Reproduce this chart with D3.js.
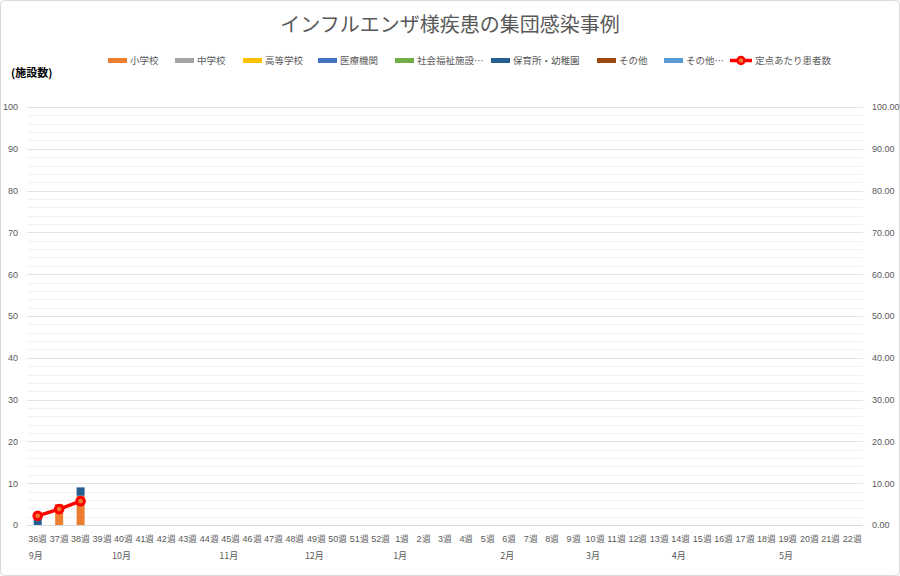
<!DOCTYPE html>
<html>
<head>
<meta charset="utf-8">
<script src="https://cdn.jsdelivr.net/npm/d3@7"></script>
<style>
  body { margin: 0; background: #fff; }
  svg { font-family: "Noto Sans CJK JP", "Noto Sans", sans-serif; }
</style>
</head>
<body>
<svg width="900" height="576"></svg>
<script>
var weeks = ['36週', '37週', '38週', '39週', '40週', '41週', '42週', '43週', '44週', '45週',
    '46週', '47週', '48週', '49週', '50週', '51週', '52週', '1週', '2週', '3週', '4週', '5週',
    '6週', '7週', '8週', '9週', '10週', '11週', '12週', '13週', '14週', '15週', '16週', '17週',
    '18週', '19週', '20週', '21週', '22週'];

// month label sits under the first week of that month
var months = [['36週', '9月'], ['40週', '10月'], ['45週', '11月'], ['49週', '12月'], ['1週', '1月'],
    ['6週', '2月'], ['10週', '3月'], ['14週', '4月'], ['19週', '5月']];

var seriesNames = ['小学校', '中学校', '高等学校', '医療機関', '社会福祉施設…', '保育所・幼稚園', 'その他', 'その他…'];
var seriesColors = ['#ED7D31', '#A5A5A5', '#FFC000', '#4472C4', '#70AD47', '#255E91', '#9E480E', '#5B9BD5'];

// reported so far (36週-38週), later weeks not reported yet
var elementary = [0, 5, 7];
var juniorHigh = [0, 0, 0];
var highSchool = [0, 0, 0];
var medical = [0, 0, 0];
var welfare = [0, 0, 0];
var nursery = [2, 0, 2];
var other = [0, 0, 0];
var other2 = [0, 0, 0];

var perSentinel = [2.2, 3.8, 5.7];

var yTicks = [0, 10, 20, 30, 40, 50, 60, 70, 80, 90, 100];

var svg = d3.select('svg'),
    plotLeft = 27,
    plotRight = 863,
    plotTop = 107,
    plotBottom = 525;

var allSeries = [elementary, juniorHigh, highSchool, medical, welfare, nursery, other, other2];

var x = d3.scaleBand().domain(weeks).range([plotLeft, plotRight]);
var y = d3.scaleLinear().domain([0, 100]).range([plotBottom, plotTop]);
var y2 = d3.scaleLinear().domain([0, 100]).range([plotBottom, plotTop]);

svg.append('rect')
    .attr('x', 0.5).attr('y', 0.5)
    .attr('width', 899).attr('height', 575)
    .attr('rx', 4)
    .attr('fill', '#fff')
    .attr('stroke', '#d9d9d9');

// minor grid
svg.append('g')
    .selectAll('line')
    .data(d3.range(0, 101, 2).filter(function (d) { return d % 10 !== 0; }))
    .enter().append('line')
    .attr('x1', plotLeft).attr('x2', plotRight)
    .attr('y1', function (d) { return Math.round(y(d)) + 0.5; })
    .attr('y2', function (d) { return Math.round(y(d)) + 0.5; })
    .attr('stroke', '#f2f2f2');

// major grid
svg.append('g')
    .selectAll('line')
    .data(yTicks)
    .enter().append('line')
    .attr('x1', plotLeft).attr('x2', plotRight)
    .attr('y1', function (d) { return Math.round(y(d)) + 0.5; })
    .attr('y2', function (d) { return Math.round(y(d)) + 0.5; })
    .attr('stroke', function (d) { return d === 0 ? '#d9d9d9' : '#e3e3e3'; });

var leftAxis = svg.append('g')
    .attr('transform', 'translate(' + (plotLeft - 9) + ',0)')
    .call(d3.axisLeft(y).tickValues(yTicks).tickSize(0).tickPadding(0));

var rightAxis = svg.append('g')
    .attr('transform', 'translate(' + (plotRight + 9) + ',0)')
    .call(d3.axisRight(y2).tickValues(yTicks).tickSize(0).tickPadding(0).tickFormat(d3.format('.2f')));

[leftAxis, rightAxis].forEach(function (g) {
    g.select('.domain').remove();
    g.selectAll('text').attr('fill', '#595959').style('font-size', '9px');
});

var xAxis = svg.append('g')
    .attr('transform', 'translate(0,' + plotBottom + ')')
    .call(d3.axisBottom(x).tickSize(0).tickPadding(11));
xAxis.select('.domain').remove();
xAxis.selectAll('text').attr('fill', '#595959').style('font-size', '9px');

svg.append('g')
    .selectAll('text')
    .data(months)
    .enter().append('text')
    .attr('x', function (d) { return x(d[0]) + x.bandwidth() / 2 - 2; })
    .attr('y', plotBottom + 34)
    .attr('text-anchor', 'middle')
    .attr('fill', '#595959')
    .style('font-size', '9px')
    .text(function (d) { return d[1]; });

// stacked bars
var rows = weeks.map(function (w, i) {
    var row = { week: w };
    for (var s = 0; s < allSeries.length; s++) {
        row[s] = allSeries[s][i] || 0;
    }
    return row;
});
var stack = d3.stack().keys(d3.range(allSeries.length))(rows);
var barW = 8;

svg.append('g')
    .selectAll('g')
    .data(stack)
    .enter().append('g')
    .attr('fill', function (d, i) { return seriesColors[i]; })
    .selectAll('rect')
    .data(function (d) { return d.filter(function (p) { return p[1] > p[0]; }); })
    .enter().append('rect')
    .attr('x', function (d) { return x(d.data.week) + x.bandwidth() / 2 - barW / 2; })
    .attr('width', barW)
    .attr('y', function (d) { return y(d[1]); })
    .attr('height', function (d) { return y(d[0]) - y(d[1]); });

// line on secondary axis
var lineData = perSentinel.map(function (v, i) { return [weeks[i], v]; });
var line = d3.line()
    .x(function (d) { return x(d[0]) + x.bandwidth() / 2; })
    .y(function (d) { return y2(d[1]); });

svg.append('path')
    .datum(lineData)
    .attr('d', line)
    .attr('fill', 'none')
    .attr('stroke', '#FF0000')
    .attr('stroke-width', 3.5);

svg.append('g')
    .selectAll('circle')
    .data(lineData)
    .enter().append('circle')
    .attr('cx', function (d) { return x(d[0]) + x.bandwidth() / 2; })
    .attr('cy', function (d) { return y2(d[1]); })
    .attr('r', 3.8)
    .attr('fill', '#ED7D31')
    .attr('stroke', '#FF0000')
    .attr('stroke-width', 3);

// title
svg.append('text')
    .attr('x', 450).attr('y', 32)
    .attr('text-anchor', 'middle')
    .attr('fill', '#595959')
    .style('font-size', '20px')
    .text('インフルエンザ様疾患の集団感染事例');

svg.append('text')
    .attr('x', 11).attr('y', 77)
    .attr('fill', '#000')
    .style('font-size', '11px')
    .style('font-weight', 'bold')
    .text('(施設数)');

// legend
var legendX = [108, 175, 243, 318, 395, 491, 597, 664];
var legend = svg.append('g').style('font-size', '9.5px');
seriesNames.forEach(function (name, i) {
    legend.append('rect')
        .attr('x', legendX[i]).attr('y', 58)
        .attr('width', 19).attr('height', 5)
        .attr('fill', seriesColors[i]);
    legend.append('text')
        .attr('x', legendX[i] + 22).attr('y', 64)
        .attr('fill', '#595959')
        .text(name);
});
legend.append('line')
    .attr('x1', 730).attr('x2', 752)
    .attr('y1', 60.5).attr('y2', 60.5)
    .attr('stroke', '#FF0000').attr('stroke-width', 3.5);
legend.append('circle')
    .attr('cx', 741).attr('cy', 60.5).attr('r', 3.5)
    .attr('fill', '#ED7D31').attr('stroke', '#FF0000').attr('stroke-width', 2.5);
legend.append('text')
    .attr('x', 755).attr('y', 64)
    .attr('fill', '#595959')
    .text('定点あたり患者数');
</script>
</body>
</html>
